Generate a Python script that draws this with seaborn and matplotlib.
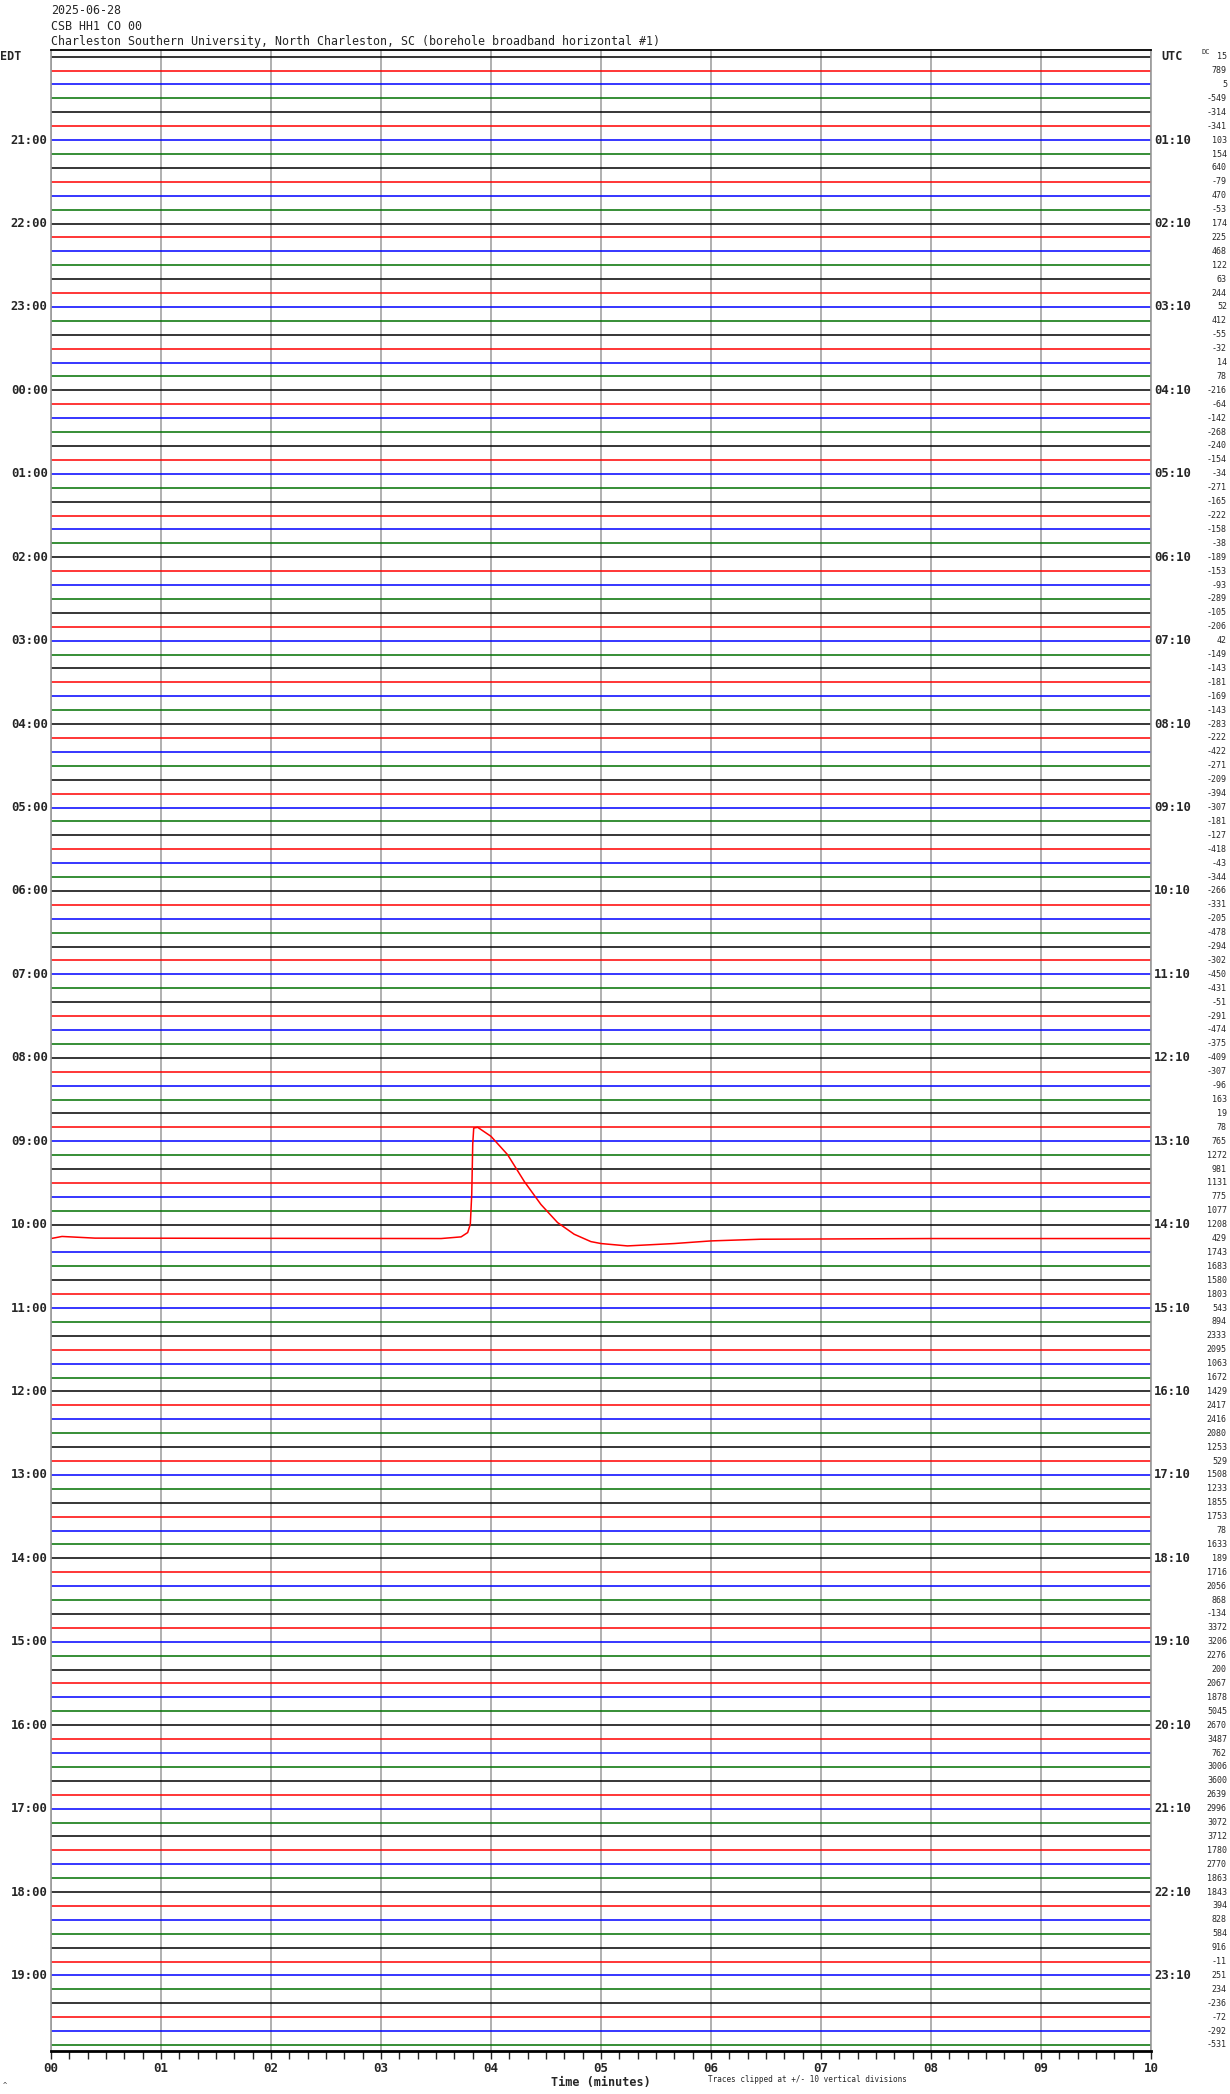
import numpy as np
import pandas as pd
import matplotlib
matplotlib.use("Agg")
import matplotlib.pyplot as plt
import matplotlib.transforms as mtrans
import seaborn as sns

# DC offsets printed at the right of every 10-minute line (top to bottom)
dc_values = [15, 789, 5, -549, -314, -341, 103, 154, 640, -79, 470, -53,
             174, 225, 468, 122, 63, 244, 52, 412, -55, -32, 14, 78,
             -216, -64, -142, -268, -240, -154, -34, -271, -165, -222, -158, -38,
             -189, -153, -93, -289, -105, -206, 42, -149, -143, -181, -169, -143,
             -283, -222, -422, -271, -209, -394, -307, -181, -127, -418, -43, -344,
             -266, -331, -205, -478, -294, -302, -450, -431, -51, -291, -474, -375,
             -409, -307, -96, 163, 19, 78, 765, 1272, 981, 1131, 775, 1077,
             1208, 429, 1743, 1683, 1580, 1803, 543, 894, 2333, 2095, 1063, 1672,
             1429, 2417, 2416, 2080, 1253, 529, 1508, 1233, 1855, 1753, 78, 1633,
             189, 1716, 2056, 868, -134, 3372, 3206, 2276, 200, 2067, 1878, 5045,
             2670, 3487, 762, 3006, 3600, 2639, 2996, 3072, 3712, 1780, 2770, 1863,
             1843, 394, 828, 584, 916, -11, 251, 234, -236, -72, -292, -531]

edt_labels = ["21:00", "22:00", "23:00", "00:00", "01:00", "02:00", "03:00", "04:00",
              "05:00", "06:00", "07:00", "08:00", "09:00", "10:00", "11:00", "12:00",
              "13:00", "14:00", "15:00", "16:00", "17:00", "18:00", "19:00"]
utc_labels = ["01:10", "02:10", "03:10", "04:10", "05:10", "06:10", "07:10", "08:10",
              "09:10", "10:10", "11:10", "12:10", "13:10", "14:10", "15:10", "16:10",
              "17:10", "18:10", "19:10", "20:10", "21:10", "22:10", "23:10"]
trace_colors = ["black", "#ff0000", "#0000ff", "#007000"]

# the one big event (line 10:10 EDT), minutes vs. offset in line spacings
event_trace = 85
event_min = [0.0, 0.1, 0.4, 3.546, 3.728, 3.788, 3.812, 3.825, 3.834, 3.843, 3.879,
             4.0, 4.151, 4.303, 4.454, 4.605, 4.756, 4.908, 5.0, 5.24, 5.664, 6.0,
             6.45, 8.0, 10.0]
event_amp = [0.0, 0.15, 0.03, 0.0, 0.12, 0.43, 1.03, 3.2, 6.8, 7.95, 8.0,
             7.35, 6.03, 4.1, 2.45, 1.15, 0.31, -0.22, -0.36, -0.53, -0.36, -0.17,
             -0.05, 0.0, 0.0]

rows = []
for i in range(len(dc_values)):
    if i == event_trace:
        for m, a in zip(event_min, event_amp):
            rows.append((i, m, -i + a))
    else:
        rows.append((i, 0.0, -i))
        rows.append((i, 10.0, -i))
df = pd.DataFrame(rows, columns=["trace", "minute", "y"])
pal = {i: trace_colors[i % 4] for i in range(len(dc_values))}

sns.set_style("white")
plt.rcParams['font.family'] = ['DejaVu Sans Mono']

W, H = 1230, 2094
fig = plt.figure(figsize=(W / 100, H / 100), dpi=100)
top_px, bot_px, left_px, right_px = 50, 2050.7, 51, 1151
ax = fig.add_axes([left_px / W, 1 - bot_px / H, (right_px - left_px) / W, (bot_px - top_px) / H])

ax.grid(axis='x', color='#9a9a9a', lw=1.1)
ax.set_axisbelow(True)
sns.lineplot(data=df, x="minute", y="y", hue="trace", palette=pal, estimator=None,
             sort=False, legend=False, linewidth=1.1, ax=ax)

ax.set_xlim(0, 10)
ax.set_ylim(-143.41, 0.48)
ax.set_yticks([])
ax.set_ylabel("")
ax.set_xticks(range(11))
ax.set_xticklabels(["%02d" % m for m in range(11)], fontsize=9, fontweight='bold')
ax.set_xticks(np.arange(0, 10.01, 1 / 6), minor=True)
ax.tick_params(axis='x', which='both', direction='out', length=6, width=1, pad=2, bottom=True)
ax.set_xlabel("Time (minutes)", fontsize=8.5, fontweight='bold', labelpad=1)
for s in ['left', 'right']:
    ax.spines[s].set_color('#9a9a9a')
    ax.spines[s].set_linewidth(1.2)
ax.spines['top'].set_color('black')
ax.spines['top'].set_linewidth(1.3)
ax.spines['bottom'].set_color('black')
ax.spines['bottom'].set_linewidth(2)

tr = mtrans.blended_transform_factory(ax.transAxes, ax.transData)
for k, lab in enumerate(edt_labels):
    i = 6 * (k + 1)
    ax.text(-0.003, -i, lab, transform=tr, ha='right', va='center', fontsize=8.8, fontweight='bold')
    ax.text(0.003 + 1, -i, utc_labels[k], transform=tr, ha='left', va='center', fontsize=8.8, fontweight='bold')
for i, v in enumerate(dc_values):
    ax.text(1.069, -i, str(v), transform=tr, ha='right', va='center', fontsize=6)

ax.text(-0.0465, 0, "EDT", transform=tr, ha='left', va='center', fontsize=8.5, fontweight='bold')
ax.text(1.0195, 0, "UTC", transform=tr, ha='center', va='center', fontsize=8.5, fontweight='bold')
fig.text(1206 / W, 1 - 52 / H, "DC", ha='center', va='center', fontsize=5)

fig.text(51 / W, 1 - 11 / H, "2025-06-28", ha='left', va='center', fontsize=8.4)
fig.text(51 / W, 1 - 26 / H, "CSB HH1 CO 00", ha='left', va='center', fontsize=8.4)
fig.text(51 / W, 1 - 42 / H, "Charleston Southern University, North Charleston, SC (borehole broadband horizontal #1)",
         ha='left', va='center', fontsize=8.4)
fig.text(708 / W, 1 - 2079 / H, "Traces clipped at +/- 10 vertical divisions", ha='left', va='center', fontsize=5.5)
fig.text(3 / W, 1 - 2085 / H, "^", ha='left', va='center', fontsize=5)

fig.savefig("out.png", dpi=100)
